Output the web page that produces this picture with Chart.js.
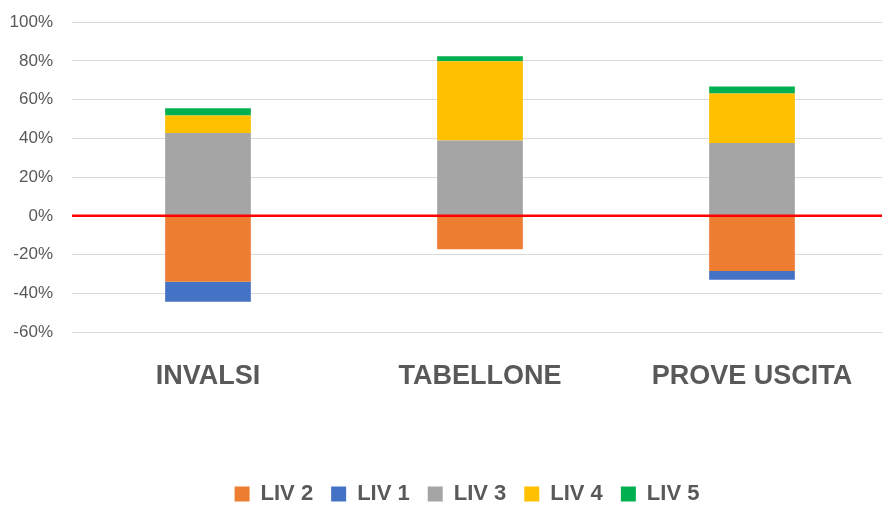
<!DOCTYPE html>
<html>
<head>
<meta charset="utf-8">
<script src="https://cdn.jsdelivr.net/npm/chart.js@4"></script>
<style>
  html, body { margin: 0; padding: 0; background: #fff; overflow: hidden; }
  #chart { display: block; margin-top: -7px; }
</style>
</head>
<body>
<canvas id="chart" width="888" height="522"></canvas>
<script>
// categories and series (percent)
const categories = ['INVALSI', 'TABELLONE', 'PROVE USCITA'];
const liv2 = [-34, -17.3, -28.5];
const liv1 = [-10.4, 0, -4.5];
const liv3 = [42.8, 38.9, 37.6];
const liv4 = [9, 40.9, 25.6];
const liv5 = [3.7, 2.6, 3.6];
const yTicks = [-60, -40, -20, 0, 20, 40, 60, 80, 100];

const textColor = '#595959';
const fontFamily = '"Liberation Sans", Arial, sans-serif';

// red line at zero, drawn over the bars
const zeroLine = {
    id: 'zeroLine',
    afterDatasetsDraw(chart) {
        const ctx = chart.ctx;
        const area = chart.chartArea;
        const y = chart.scales.y.getPixelForValue(0);
        ctx.save();
        ctx.strokeStyle = '#FF0000';
        ctx.lineWidth = 2.5;
        ctx.beginPath();
        ctx.moveTo(area.left, y);
        ctx.lineTo(area.right, y);
        ctx.stroke();
        ctx.restore();
    }
};

// legend in the original sits a bit right of centre
const legendShift = {
    id: 'legendShift',
    afterLayout(chart) {
        chart.legend.left += 23;
        chart.legend.right += 23;
    }
};

const ctx = document.getElementById('chart').getContext('2d');
new Chart(ctx, {
    type: 'bar',
    data: {
        labels: categories,
        datasets: [
            { label: 'LIV 2', data: liv2, backgroundColor: '#ED7D31' },
            { label: 'LIV 1', data: liv1, backgroundColor: '#4472C4' },
            { label: 'LIV 3', data: liv3, backgroundColor: '#A5A5A5' },
            { label: 'LIV 4', data: liv4, backgroundColor: '#FFC000' },
            { label: 'LIV 5', data: liv5, backgroundColor: '#00B050' }
        ]
    },
    options: {
        responsive: false,
        animation: false,
        categoryPercentage: 1,
        barPercentage: 0.315,
        layout: { padding: { left: 0, right: 0, top: 8, bottom: 0 } },
        plugins: {
            tooltip: { enabled: false },
            legend: {
                position: 'bottom',
                labels: {
                    boxWidth: 15,
                    boxHeight: 15,
                    padding: 18,
                    color: textColor,
                    font: { family: fontFamily, size: 22, weight: 'bold' }
                }
            }
        },
        scales: {
            x: {
                stacked: true,
                grid: { display: false, drawTicks: false },
                border: { display: false },
                ticks: {
                    padding: 28,
                    color: textColor,
                    font: { family: fontFamily, size: 27, weight: 'bold' }
                },
                afterFit(scale) { scale.height = 133; }
            },
            y: {
                stacked: true,
                min: yTicks[0],
                max: yTicks[yTicks.length - 1],
                grid: { color: '#D9D9D9', lineWidth: 1, drawTicks: false },
                border: { display: false },
                ticks: {
                    stepSize: yTicks[1] - yTicks[0],
                    padding: 19,
                    color: textColor,
                    font: { family: fontFamily, size: 17 },
                    callback: v => v + '%'
                },
                afterFit(scale) { scale.width = 72; }
            }
        }
    },
    plugins: [zeroLine, legendShift]
});
</script>
</body>
</html>
